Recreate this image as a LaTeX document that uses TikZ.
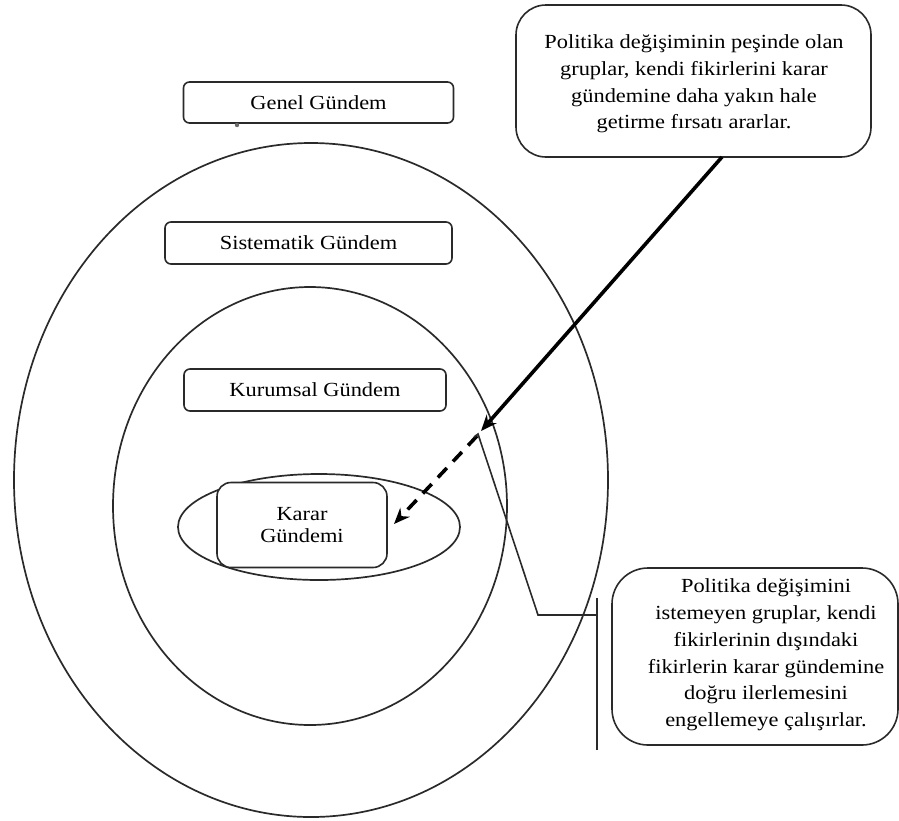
\documentclass[tikz,border=0pt]{standalone}
\usepackage{fontspec}
\setmainfont[FakeStretch=1.12]{Liberation Serif}
\usetikzlibrary{shapes.geometric,arrows.meta}
\definecolor{ink}{HTML}{2A2A2A}
\tikzset{
  ring/.style={draw=ink, line width=1.7pt, ellipse, inner sep=0pt},
  agbox/.style={draw=ink, line width=1.6pt, fill=white, rounded corners=6pt, inner sep=0pt, font=\fontsize{20}{26}\selectfont},
  callout/.style={draw=ink, line width=1.6pt, fill=white, rounded corners=30pt, inner sep=0pt},
  calltext/.style={align=center, inner sep=0pt, font=\fontsize{20}{26.8}\selectfont},
  push/.style={line width=3.6pt, draw=black, -{Stealth[length=16pt,width=13pt]}},
  pushdash/.style={push, dash pattern=on 13pt off 9pt},
  barrier/.style={draw=ink, line width=1.6pt, line join=miter},
}
\begin{document}
\begin{tikzpicture}[x=1pt,y=-1pt]
  \useasboundingbox (0,0) rectangle (899,820);

  % nested agendas
  \node[ring, minimum width=594pt, minimum height=674pt] (outer) at (311,480) {};
  \node[ring, minimum width=394pt, minimum height=438pt] (middle) at (310,506) {};
  \node[ring, minimum width=282pt, minimum height=106pt] (inner) at (319,527) {};

  % agenda labels
  \node[agbox, minimum width=270pt, minimum height=41pt] (genel) at (318.5,102.5) {Genel Gündem};
  \fill[ink!70] (237,125) circle (2.2pt);
  \node[agbox, minimum width=287pt, minimum height=42pt] (sist) at (308.5,243) {Sistematik Gündem};
  \node[agbox, minimum width=262pt, minimum height=42pt] (kurum) at (315,390) {Kurumsal Gündem};
  \node[agbox, rounded corners=14pt, minimum width=170pt, minimum height=85pt, align=center,
        font=\fontsize{20}{21.7}\selectfont] (karar) at (302,525) {Karar\\Gündemi};

  % callouts
  \node[callout, minimum width=355pt, minimum height=152pt] (topcall) at (693.5,81) {};
  \node[calltext] (toptxt) at (694,84) {Politika değişiminin peşinde olan\\gruplar, kendi fikirlerini karar\\gündemine daha yakın hale\\getirme fırsatı ararlar.};
  \node[callout, rounded corners=36pt, minimum width=286pt, minimum height=177pt] (botcall) at (755,656.5) {};
  \node[calltext] (bottxt) at (766,655) {Politika değişimini\\istemeyen gruplar, kendi\\fikirlerinin dışındaki\\fikirlerin karar gündemine\\doğru ilerlemesini\\engellemeye çalışırlar.};

  % push toward the decision agenda
  \coordinate (pstart) at (722,157);
  \coordinate (pbreak) at (481,431);
  \coordinate (dstart) at (477,436);
  \coordinate (ptip) at (394,524);
  \draw[push] (pstart) -- (pbreak);
  \draw[pushdash] (dstart) -- (ptip);

  % blocking barrier
  \coordinate (b0) at (474,437);
  \coordinate (b1) at (478,434);
  \coordinate (b2) at (538,615);
  \coordinate (b3) at (597,615);
  \coordinate (w0) at (597,598);
  \coordinate (w1) at (597,750);
  \draw[barrier] (b0) -- (b1) -- (b2) -- (b3);
  \draw[barrier] (w0) -- (w1);
\end{tikzpicture}
\end{document}
